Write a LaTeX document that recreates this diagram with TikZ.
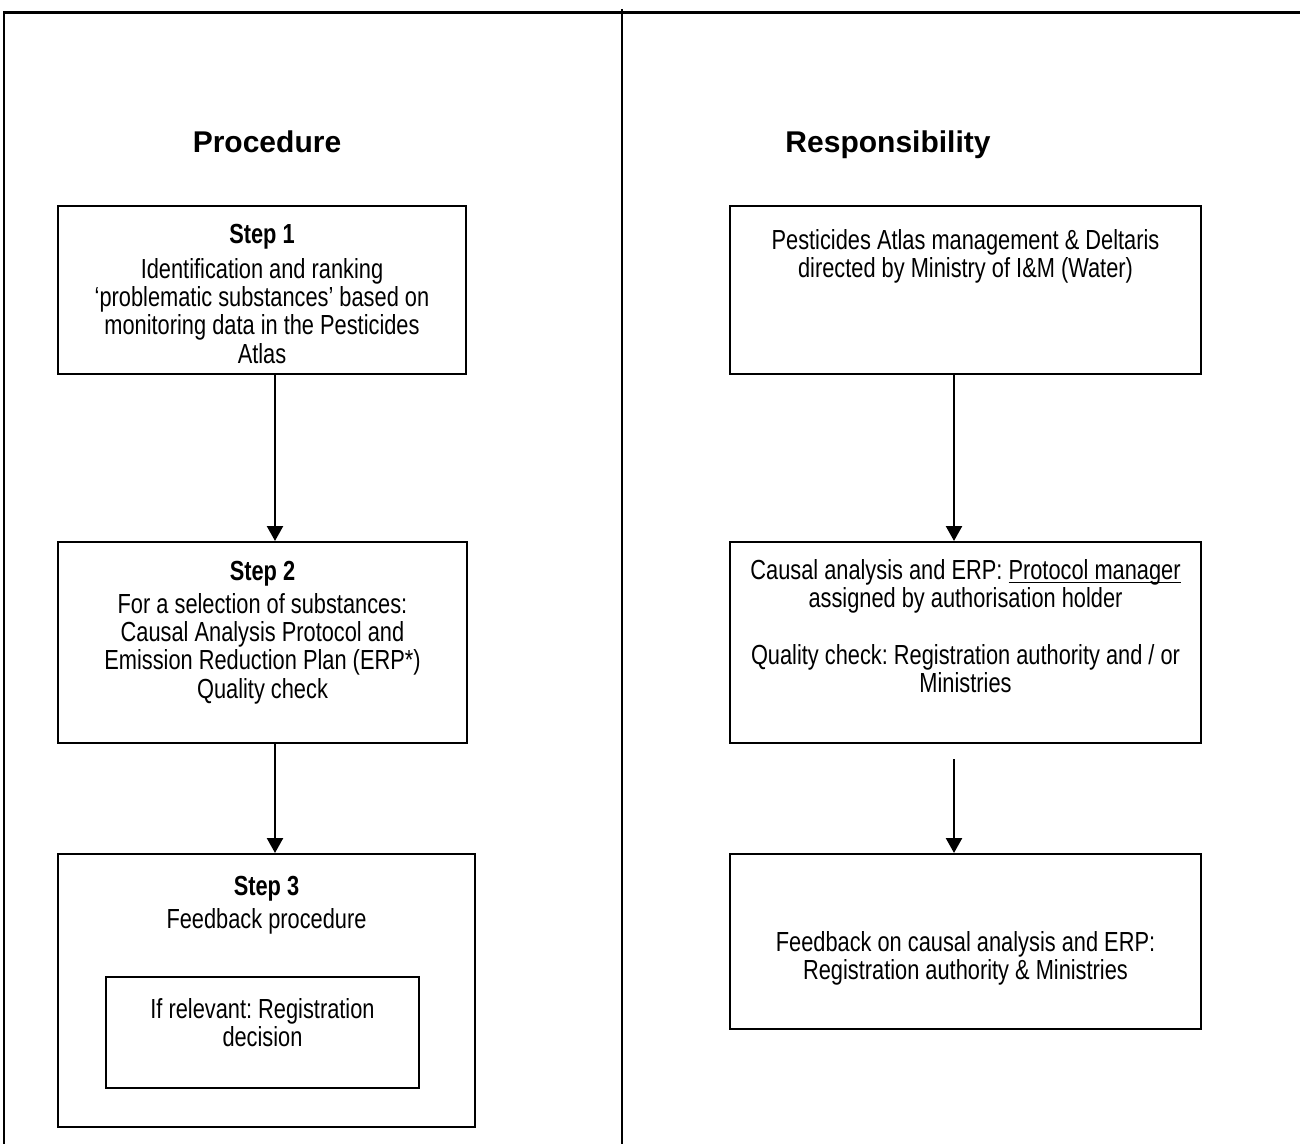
\documentclass[tikz,border=0pt]{standalone}
\usepackage{fontspec}
\setmainfont{Liberation Sans}[FakeStretch=0.79]
\newfontfamily\headfont{Liberation Sans}
\usetikzlibrary{arrows.meta}
\frenchspacing
% underline drawn at a fixed depth below the baseline
\newsavebox{\ulbox}
\newcommand{\ulinetext}[1]{\sbox{\ulbox}{#1}\rlap{\rule[-1.6pt]{\wd\ulbox}{0.5pt}}\usebox{\ulbox}}
\begin{document}
\begin{tikzpicture}[x=0.5pt,y=-0.5pt,
  frame/.style={line width=1pt},
  box/.style={draw, rectangle, line width=1pt, inner sep=0pt},
  txt/.style={align=center, inner sep=0pt, anchor=north,
    font=\fontsize{13.8pt}{14.2pt}\selectfont},
  head/.style={inner sep=0pt, anchor=base, font=\headfont\bfseries\fontsize{15pt}{18pt}\selectfont},
  flow/.style={line width=1.2pt, -{Triangle[width=8pt,length=7.5pt]}}
]
\useasboundingbox (0,0) rectangle (1300,1144);

% page frame: top rule, outer left rule and column divider
\draw[frame, line width=1.2pt] (3,12.5) -- (1300,12.5);
\draw[frame] (4,12) -- (4,1144);
\draw[frame] (622,9) -- (622,1144);

% column headings
\node[head] (hproc) at (267,153) {Procedure};
\node[head] (hresp) at (888,153) {Responsibility};

% procedure column
\node[box, minimum width=204pt, minimum height=84pt] (s1) at (262,290) {};
\node[box, minimum width=204.5pt, minimum height=100.5pt] (s2) at (262.5,642.5) {};
\node[box, minimum width=208.5pt, minimum height=136.5pt] (s3) at (266.5,990.5) {};
\node[box, minimum width=156.5pt, minimum height=55.5pt] (s3in) at (262.5,1032.5) {};

\node[txt] (s1t) at (262,224) {\textbf{Step 1}\\[3pt]
  Identification and ranking\\
  ‘problematic substances’ based on\\
  monitoring data in the Pesticides\\
  Atlas};
\node[txt] (s2t) at (262.5,561) {\textbf{Step 2}\\[2pt]
  For a selection of substances:\\
  Causal Analysis Protocol and\\
  Emission Reduction Plan (ERP*)\\
  Quality check};
\node[txt] (s3t) at (266.5,876) {\textbf{Step 3}\\[2pt]
  Feedback procedure};
\node[txt] (s3int) at (262.5,998) {If relevant: Registration\\ decision};

% responsibility column
\node[box, minimum width=235.5pt, minimum height=84pt] (r1) at (965.5,290) {};
\node[box, minimum width=235.5pt, minimum height=100.5pt] (r2) at (965.5,642.5) {};
\node[box, minimum width=235.5pt, minimum height=87.5pt] (r3) at (965.5,941.5) {};

\node[txt] (r1t) at (965.5,229) {Pesticides Atlas management \& Deltaris\\
  directed by Ministry of I\&M (Water)};
\node[txt] (r2t) at (965.5,559) {Causal analysis and ERP: \ulinetext{Protocol manager}\\
  assigned by authorisation holder\\[14pt]
  Quality check: Registration authority and / or\\
  Ministries};
\node[txt] (r3t) at (965.5,931) {Feedback on causal analysis and ERP:\\
  Registration authority \& Ministries};

% connectors
\coordinate (axL) at (275,0);
\coordinate (axR) at (954,0);
\coordinate (r23) at (954,759);
\draw[flow] (s1.south -| axL) -- (s2.north -| axL);
\draw[flow] (s2.south -| axL) -- (s3.north -| axL);
\draw[flow] (r1.south -| axR) -- (r2.north -| axR);
\draw[flow] (r23) -- (r3.north -| axR);
\end{tikzpicture}
\end{document}
